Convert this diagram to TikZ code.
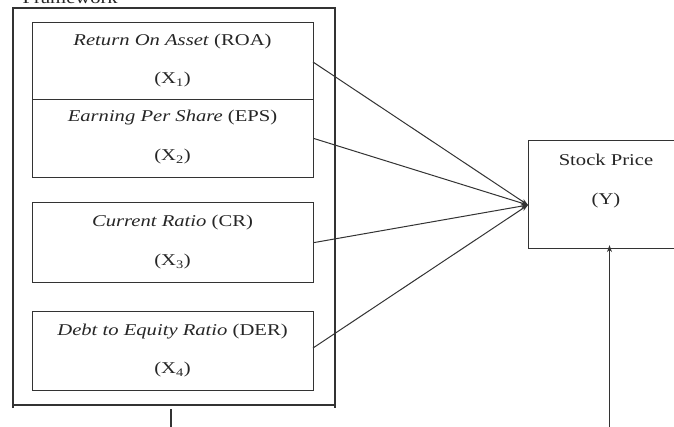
\documentclass[tikz,border=0pt]{standalone}
\usepackage{fontspec}
\setmainfont{Liberation Serif}[FakeStretch=1.25]
\usetikzlibrary{arrows.meta}
\begin{document}
\begin{tikzpicture}[x=1bp,y=-1bp,
  ln/.style={draw=black!80,line width=1.1bp},
  varbox/.style={ln,rectangle,inner sep=0pt,minimum width=281bp,anchor=north west},
  lbl/.style={font=\fontsize{16.5bp}{18bp}\selectfont,text=black!85,inner sep=0pt},
  arr/.style={draw=black!80,line width=1bp,-{Stealth[length=7bp,width=5bp]}}
]
\clip (0,0) rectangle (674,426);
\fill[white] (0,0) rectangle (674,426);
% cut-off title
\node[lbl,anchor=base east] (title) at (118,3) {Framework};
% outer frame
\draw[ln] (13,408) -- (13,8) -- (335,8) -- (335,408);
\draw[ln] (13,405) -- (335,405);
% inner boxes
\node[varbox,minimum height=77bp] (b1) at (32,22) {};
\node[varbox,minimum height=78bp] (b2) at (32,99) {};
\node[varbox,minimum height=80bp] (b3) at (32,202) {};
\node[varbox,minimum height=79bp] (b4) at (32,311) {};
% labels
\node[lbl] (t1a) at (172.5,42) {\textit{Return On Asset} (ROA)};
\node[lbl] (t1b) at (172.5,80) {(X\textsubscript{1})};
\node[lbl] (t2a) at (172.5,118) {\textit{Earning Per Share} (EPS)};
\node[lbl] (t2b) at (172.5,157) {(X\textsubscript{2})};
\node[lbl] (t3a) at (172.5,223) {\textit{Current Ratio} (CR)};
\node[lbl] (t3b) at (172.5,262) {(X\textsubscript{3})};
\node[lbl] (t4a) at (172.5,332) {\textit{Debt to Equity Ratio} (DER)};
\node[lbl] (t4b) at (172.5,370) {(X\textsubscript{4})};
% stock price box
\node[ln,rectangle,inner sep=0pt,minimum width=156bp,minimum height=108bp,anchor=north west] (sp) at (528,140) {};
\node[lbl] (spa) at (606,160) {Stock Price};
\node[lbl] (spb) at (606,201) {(Y)};
\coordinate (conv) at (528,205);
\coordinate (c1) at (313,62);
\coordinate (c4) at (313,348);
\draw[arr] (c1) -- (conv);
\draw[arr] (b2.east) -- (conv);
\draw[arr] (b3.east) -- (conv);
\draw[arr] (c4) -- (conv);
% bottom connectors
\coordinate (down) at (171,430);
\draw[ln] (171,409) -- (down);
\coordinate (upstart) at (609.5,430);
\draw[arr] (upstart) -- ([yshift=4bp]sp.south -| upstart);
\end{tikzpicture}
\end{document}
